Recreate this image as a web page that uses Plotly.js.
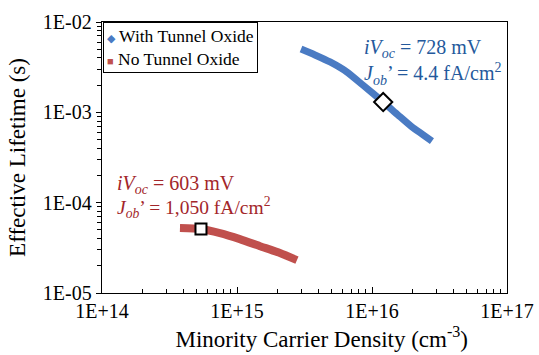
<!DOCTYPE html>
<html>
<head>
<meta charset="utf-8">
<script src="https://cdn.plot.ly/plotly-3.0.1.min.js"></script>
<style>html,body{margin:0;padding:0;background:#fff}#chart{width:539px;height:355px}</style>
</head>
<body>
<div id="chart"></div>
<script>
// With tunnel oxide
var blueX = [2.98e15, 3.78e15, 4.89e15, 6.53e15, 8.57e15, 1.21e16, 1.56e16, 1.98e16, 2.35e16, 2.78e16];
var blueY = [5.02e-3, 4.32e-3, 3.61e-3, 2.79e-3, 2.00e-3, 1.30e-3, 9.33e-4, 6.87e-4, 5.75e-4, 4.81e-4];
// No tunnel oxide
var redX = [3.78e14, 5.41e14, 7.48e14, 1.05e15, 1.48e15, 2.08e15, 2.78e15];
var redY = [5.24e-5, 5.11e-5, 4.60e-5, 3.95e-5, 3.30e-5, 2.77e-5, 2.31e-5];
// highlighted operating points
var blueMarkX = [1.21e16], blueMarkY = [1.30e-3];
var redMarkX = [5.41e14], redMarkY = [5.11e-5];
var seriesNames = ["With Tunnel Oxide", "No Tunnel Oxide"];
var xTickVals = [1e14, 1e15, 1e16, 1e17];
var xTickText = ["1E+14", "1E+15", "1E+16", "1E+17"];
var yTickVals = [1e-5, 1e-4, 1e-3, 1e-2];
var yTickText = ["1E-05", "1E-04", "1E-03", "1E-02"];

var blueC = "#4a7bc3", redC = "#c0504d";
function minors(lo, hi) { var a = []; for (var e = lo; e < hi; e++) for (var k = 2; k <= 9; k++) a.push(k * Math.pow(10, e)); return a; }

var traces = [
  {x: blueX, y: blueY, mode: "lines", name: seriesNames[0], line: {color: blueC, width: 7, shape: "spline", smoothing: 0.6}, showlegend: false},
  {x: redX, y: redY, mode: "lines", name: seriesNames[1], line: {color: redC, width: 8, shape: "spline", smoothing: 0.6}, showlegend: false},
  {x: blueMarkX, y: blueMarkY, mode: "markers", marker: {symbol: "diamond", size: 14, color: "#fff", line: {color: "#000", width: 2}}, showlegend: false},
  {x: redMarkX, y: redMarkY, mode: "markers", marker: {symbol: "square", size: 11, color: "#fff", line: {color: "#000", width: 2}}, showlegend: false}
];

var fontF = "Times New Roman";
var legendText = "<span style='color:" + blueC + ";font-size:11px'>◆</span> " + seriesNames[0] +
  "<br><span style='color:" + redC + ";font-size:11px'>■</span> " + seriesNames[1];
var layout = {
  width: 539, height: 355,
  margin: {l: 102, r: 32, t: 22, b: 62},
  paper_bgcolor: "#fff", plot_bgcolor: "#fff",
  font: {family: fontF, color: "#000", size: 18},
  showlegend: false,
  xaxis: {type: "log", range: [14, 17], tickmode: "array", tickvals: xTickVals, ticktext: xTickText,
    ticks: "inside", ticklen: 6, tickcolor: "#000", showline: true, linecolor: "#000", linewidth: 1.3, mirror: true,
    showgrid: false, zeroline: false, tickfont: {size: 20, family: fontF},
    minor: {tickmode: "array", tickvals: minors(14, 17), ticks: "inside", ticklen: 4, tickcolor: "#000", showgrid: false},
    title: {text: "&nbsp;&nbsp;&nbsp;&nbsp;&nbsp;&nbsp;Minority Carrier Density (cm<sup>-3</sup>)", font: {size: 23, family: fontF}, standoff: 9}},
  yaxis: {type: "log", range: [-5, -2], tickmode: "array", tickvals: yTickVals, ticktext: yTickText,
    ticks: "outside", ticklen: 5, tickcolor: "#000", showline: true, linecolor: "#000", linewidth: 1.3, mirror: true,
    showgrid: false, zeroline: false, tickfont: {size: 20, family: fontF},
    minor: {tickmode: "array", tickvals: minors(-5, -2), ticks: "outside", ticklen: 4, tickcolor: "#000", showgrid: false},
    title: {text: "Effective Lifetime (s)", font: {size: 23, family: fontF}, standoff: 10}},
  annotations: [
    {xref: "paper", yref: "paper", x: 0.0025, y: 1, xanchor: "left", yanchor: "top", showarrow: false, align: "left",
      text: legendText, font: {size: 17.5, family: fontF, color: "#000"},
      bordercolor: "#000", borderwidth: 1, borderpad: 3, bgcolor: "#fff"},
    {xref: "paper", yref: "paper", x: 0.642, y: 0.902, xanchor: "left", yanchor: "middle", showarrow: false,
      text: "<i>iV<sub>oc</sub></i> = 728 mV", font: {size: 20, family: fontF, color: "#24599c"}},
    {xref: "paper", yref: "paper", x: 0.642, y: 0.809, xanchor: "left", yanchor: "middle", showarrow: false,
      text: "<i>J<sub>ob</sub></i>’ = 4.4 fA/cm<sup>2</sup>", font: {size: 20, family: fontF, color: "#24599c"}},
    {xref: "paper", yref: "paper", x: 0.032, y: 0.399, xanchor: "left", yanchor: "middle", showarrow: false,
      text: "<i>iV<sub>oc</sub></i> = 603 mV", font: {size: 20, family: fontF, color: "#a3262a"}},
    {xref: "paper", yref: "paper", x: 0.032, y: 0.314, xanchor: "left", yanchor: "middle", showarrow: false,
      text: "<i>J<sub>ob</sub></i>’ = 1,050 fA/cm<sup>2</sup>", font: {size: 19.5, family: fontF, color: "#a3262a"}}
  ]
};
Plotly.newPlot("chart", traces, layout, {staticPlot: true, displayModeBar: false});
</script>
</body>
</html>
